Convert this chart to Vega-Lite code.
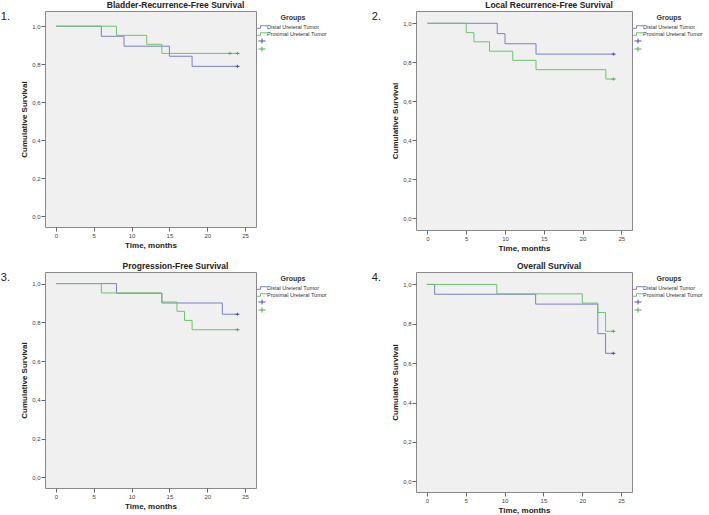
{
  "$schema": "https://vega.github.io/schema/vega-lite/v6.json",
  "background": "white",
  "padding": {"left": 0, "top": 0, "right": 0, "bottom": 0},
  "datasets": {
    "curves": [
      {"p": 1, "g": "Distal Ureteral Tumor", "t": 0, "s": 1},
      {"p": 1, "g": "Distal Ureteral Tumor", "t": 6, "s": 0.947},
      {"p": 1, "g": "Distal Ureteral Tumor", "t": 9, "s": 0.895},
      {"p": 1, "g": "Distal Ureteral Tumor", "t": 15, "s": 0.842},
      {"p": 1, "g": "Distal Ureteral Tumor", "t": 18, "s": 0.789},
      {"p": 1, "g": "Distal Ureteral Tumor", "t": 24, "s": 0.789},
      {"p": 1, "g": "Proximal Ureteral Tumor", "t": 0, "s": 1},
      {"p": 1, "g": "Proximal Ureteral Tumor", "t": 8, "s": 0.952},
      {"p": 1, "g": "Proximal Ureteral Tumor", "t": 12, "s": 0.905},
      {"p": 1, "g": "Proximal Ureteral Tumor", "t": 14, "s": 0.857},
      {"p": 1, "g": "Proximal Ureteral Tumor", "t": 24, "s": 0.857},
      {"p": 2, "g": "Distal Ureteral Tumor", "t": 0, "s": 1},
      {"p": 2, "g": "Distal Ureteral Tumor", "t": 9, "s": 0.947},
      {"p": 2, "g": "Distal Ureteral Tumor", "t": 10, "s": 0.895},
      {"p": 2, "g": "Distal Ureteral Tumor", "t": 14, "s": 0.842},
      {"p": 2, "g": "Distal Ureteral Tumor", "t": 24, "s": 0.842},
      {"p": 2, "g": "Proximal Ureteral Tumor", "t": 0, "s": 1},
      {"p": 2, "g": "Proximal Ureteral Tumor", "t": 5, "s": 0.952},
      {"p": 2, "g": "Proximal Ureteral Tumor", "t": 6, "s": 0.905},
      {"p": 2, "g": "Proximal Ureteral Tumor", "t": 8, "s": 0.857},
      {"p": 2, "g": "Proximal Ureteral Tumor", "t": 11, "s": 0.81},
      {"p": 2, "g": "Proximal Ureteral Tumor", "t": 14, "s": 0.762},
      {"p": 2, "g": "Proximal Ureteral Tumor", "t": 23, "s": 0.714},
      {"p": 2, "g": "Proximal Ureteral Tumor", "t": 24, "s": 0.714},
      {"p": 3, "g": "Distal Ureteral Tumor", "t": 0, "s": 1},
      {"p": 3, "g": "Distal Ureteral Tumor", "t": 8, "s": 0.95},
      {"p": 3, "g": "Distal Ureteral Tumor", "t": 14, "s": 0.9},
      {"p": 3, "g": "Distal Ureteral Tumor", "t": 22, "s": 0.842},
      {"p": 3, "g": "Distal Ureteral Tumor", "t": 24, "s": 0.842},
      {"p": 3, "g": "Proximal Ureteral Tumor", "t": 0, "s": 1},
      {"p": 3, "g": "Proximal Ureteral Tumor", "t": 6, "s": 0.952},
      {"p": 3, "g": "Proximal Ureteral Tumor", "t": 14, "s": 0.905},
      {"p": 3, "g": "Proximal Ureteral Tumor", "t": 16, "s": 0.857},
      {"p": 3, "g": "Proximal Ureteral Tumor", "t": 17, "s": 0.81},
      {"p": 3, "g": "Proximal Ureteral Tumor", "t": 18, "s": 0.762},
      {"p": 3, "g": "Proximal Ureteral Tumor", "t": 24, "s": 0.762},
      {"p": 4, "g": "Distal Ureteral Tumor", "t": 0, "s": 1},
      {"p": 4, "g": "Distal Ureteral Tumor", "t": 1, "s": 0.95},
      {"p": 4, "g": "Distal Ureteral Tumor", "t": 14, "s": 0.9},
      {"p": 4, "g": "Distal Ureteral Tumor", "t": 22, "s": 0.75},
      {"p": 4, "g": "Distal Ureteral Tumor", "t": 23, "s": 0.65},
      {"p": 4, "g": "Distal Ureteral Tumor", "t": 24, "s": 0.65},
      {"p": 4, "g": "Proximal Ureteral Tumor", "t": 0, "s": 1},
      {"p": 4, "g": "Proximal Ureteral Tumor", "t": 9, "s": 0.952},
      {"p": 4, "g": "Proximal Ureteral Tumor", "t": 20, "s": 0.905},
      {"p": 4, "g": "Proximal Ureteral Tumor", "t": 22, "s": 0.857},
      {"p": 4, "g": "Proximal Ureteral Tumor", "t": 23, "s": 0.762},
      {"p": 4, "g": "Proximal Ureteral Tumor", "t": 24, "s": 0.762}
    ],
    "censored": [
      {"p": 1, "g": "Distal censored", "t": 24, "s": 0.789},
      {"p": 1, "g": "Proximal censored", "t": 23, "s": 0.857},
      {"p": 1, "g": "Proximal censored", "t": 24, "s": 0.857},
      {"p": 2, "g": "Distal censored", "t": 24, "s": 0.842},
      {"p": 2, "g": "Proximal censored", "t": 24, "s": 0.714},
      {"p": 3, "g": "Distal censored", "t": 24, "s": 0.842},
      {"p": 3, "g": "Proximal censored", "t": 24, "s": 0.762},
      {"p": 4, "g": "Distal censored", "t": 24, "s": 0.65},
      {"p": 4, "g": "Proximal censored", "t": 24, "s": 0.762}
    ]
  },
  "resolve": {"scale": {"x": "independent", "y": "independent", "color": "independent", "shape": "independent"}, "legend": {"color": "independent", "shape": "independent"}},
  "spacing": 8,
  "vconcat": [
    {
      "resolve": {"scale": {"x": "independent", "y": "independent", "color": "independent", "shape": "independent"}, "legend": {"color": "independent", "shape": "independent"}},
      "spacing": 40,
      "hconcat": [
        {
          "resolve": {"scale": {"x": "independent", "y": "independent", "color": "independent", "shape": "independent"}, "legend": {"color": "independent", "shape": "independent"}},
          "title": {"text": "1.", "orient": "left", "angle": 0, "anchor": "end", "fontSize": 11, "fontWeight": "normal", "offset": 1, "dy": 11},
          "hconcat": [
            {
              "width": 211, "height": 216,
              "title": {"text": "Bladder-Recurrence-Free Survival", "dx": 25, "offset": 2},
              "layer": [
                {
                  "data": {"name": "curves"},
                  "transform": [{"filter": "datum.p == 1"}],
                  "mark": {"type": "line", "interpolate": "step-after", "strokeWidth": 1},
                  "encoding": {
                    "x": {"field": "t", "type": "quantitative", "title": "Time, months", "scale": {"domain": [-1.45, 26.45], "nice": false, "zero": false}, "axis": {"values": [0, 5, 10, 15, 20, 25]}},
                    "y": {"field": "s", "type": "quantitative", "title": "Cumulative Survival", "scale": {"domain": [-0.056, 1.08], "nice": false, "zero": false}, "axis": {"values": [0, 0.2, 0.4, 0.6, 0.8, 1], "labelExpr": "replace(format(datum.value, '.1f'), '.', ',')"}},
                    "color": {"field": "g", "type": "nominal", "title": "Groups", "scale": {"domain": ["Distal Ureteral Tumor", "Proximal Ureteral Tumor", "Distal censored", "Proximal censored"], "range": ["#7b7fc9", "#6cc46c", "#4d51ad", "#4fae4f"]}, "legend": {"labelExpr": "indexof(datum.label, 'censored') >= 0 ? '' : datum.label"}}
                  }
                },
                {
                  "data": {"name": "censored"},
                  "transform": [{"filter": "datum.p == 1"}],
                  "mark": {"type": "point", "filled": false, "size": 9, "strokeWidth": 1, "opacity": 1},
                  "encoding": {
                    "x": {"field": "t", "type": "quantitative"},
                    "y": {"field": "s", "type": "quantitative"},
                    "color": {"field": "g", "type": "nominal", "title": "Groups", "legend": {"labelExpr": "indexof(datum.label, 'censored') >= 0 ? '' : datum.label"}},
                    "shape": {"field": "g", "type": "nominal", "title": "Groups", "scale": {"domain": ["Distal Ureteral Tumor", "Proximal Ureteral Tumor", "Distal censored", "Proximal censored"], "range": ["M-2,0.5H-0.6V-0.5H2", "M-2,0.5H-0.6V-0.5H2", "M-1.4,0H1.4M0,-1V1", "M-1.4,0H1.4M0,-1V1"]}, "legend": {"labelExpr": "indexof(datum.label, 'censored') >= 0 ? '' : datum.label"}}
                  }
                }
              ]
            }
          ]
        },
        {
          "resolve": {"scale": {"x": "independent", "y": "independent", "color": "independent", "shape": "independent"}, "legend": {"color": "independent", "shape": "independent"}},
          "title": {"text": "2.", "orient": "left", "angle": 0, "anchor": "end", "fontSize": 11, "fontWeight": "normal", "offset": 1, "dy": 11},
          "hconcat": [
            {
              "width": 216, "height": 219,
              "title": {"text": "Local Recurrence-Free Survival", "dx": 25, "offset": 2},
              "layer": [
                {
                  "data": {"name": "curves"},
                  "transform": [{"filter": "datum.p == 2"}],
                  "mark": {"type": "line", "interpolate": "step-after", "strokeWidth": 1},
                  "encoding": {
                    "x": {"field": "t", "type": "quantitative", "title": "Time, months", "scale": {"domain": [-1.47, 26.37], "nice": false, "zero": false}, "axis": {"values": [0, 5, 10, 15, 20, 25]}},
                    "y": {"field": "s", "type": "quantitative", "title": "Cumulative Survival", "scale": {"domain": [-0.06, 1.063], "nice": false, "zero": false}, "axis": {"values": [0, 0.2, 0.4, 0.6, 0.8, 1], "labelExpr": "replace(format(datum.value, '.1f'), '.', ',')"}},
                    "color": {"field": "g", "type": "nominal", "title": "Groups", "scale": {"domain": ["Distal Ureteral Tumor", "Proximal Ureteral Tumor", "Distal censored", "Proximal censored"], "range": ["#7b7fc9", "#6cc46c", "#4d51ad", "#4fae4f"]}, "legend": {"labelExpr": "indexof(datum.label, 'censored') >= 0 ? '' : datum.label"}}
                  }
                },
                {
                  "data": {"name": "censored"},
                  "transform": [{"filter": "datum.p == 2"}],
                  "mark": {"type": "point", "filled": false, "size": 9, "strokeWidth": 1, "opacity": 1},
                  "encoding": {
                    "x": {"field": "t", "type": "quantitative"},
                    "y": {"field": "s", "type": "quantitative"},
                    "color": {"field": "g", "type": "nominal", "title": "Groups", "legend": {"labelExpr": "indexof(datum.label, 'censored') >= 0 ? '' : datum.label"}},
                    "shape": {"field": "g", "type": "nominal", "title": "Groups", "scale": {"domain": ["Distal Ureteral Tumor", "Proximal Ureteral Tumor", "Distal censored", "Proximal censored"], "range": ["M-2,0.5H-0.6V-0.5H2", "M-2,0.5H-0.6V-0.5H2", "M-1.4,0H1.4M0,-1V1", "M-1.4,0H1.4M0,-1V1"]}, "legend": {"labelExpr": "indexof(datum.label, 'censored') >= 0 ? '' : datum.label"}}
                  }
                }
              ]
            }
          ]
        }
      ]
    },
    {
      "resolve": {"scale": {"x": "independent", "y": "independent", "color": "independent", "shape": "independent"}, "legend": {"color": "independent", "shape": "independent"}},
      "spacing": 40,
      "hconcat": [
        {
          "resolve": {"scale": {"x": "independent", "y": "independent", "color": "independent", "shape": "independent"}, "legend": {"color": "independent", "shape": "independent"}},
          "title": {"text": "3.", "orient": "left", "angle": 0, "anchor": "end", "fontSize": 11, "fontWeight": "normal", "offset": 1, "dy": 11},
          "hconcat": [
            {
              "width": 211, "height": 216,
              "title": {"text": "Progression-Free Survival", "dx": 25, "offset": 2},
              "layer": [
                {
                  "data": {"name": "curves"},
                  "transform": [{"filter": "datum.p == 3"}],
                  "mark": {"type": "line", "interpolate": "step-after", "strokeWidth": 1},
                  "encoding": {
                    "x": {"field": "t", "type": "quantitative", "title": "Time, months", "scale": {"domain": [-1.45, 26.45], "nice": false, "zero": false}, "axis": {"values": [0, 5, 10, 15, 20, 25]}},
                    "y": {"field": "s", "type": "quantitative", "title": "Cumulative Survival", "scale": {"domain": [-0.055, 1.06], "nice": false, "zero": false}, "axis": {"values": [0, 0.2, 0.4, 0.6, 0.8, 1], "labelExpr": "replace(format(datum.value, '.1f'), '.', ',')"}},
                    "color": {"field": "g", "type": "nominal", "title": "Groups", "scale": {"domain": ["Distal Ureteral Tumor", "Proximal Ureteral Tumor", "Distal censored", "Proximal censored"], "range": ["#7b7fc9", "#6cc46c", "#4d51ad", "#4fae4f"]}, "legend": {"labelExpr": "indexof(datum.label, 'censored') >= 0 ? '' : datum.label"}}
                  }
                },
                {
                  "data": {"name": "censored"},
                  "transform": [{"filter": "datum.p == 3"}],
                  "mark": {"type": "point", "filled": false, "size": 9, "strokeWidth": 1, "opacity": 1},
                  "encoding": {
                    "x": {"field": "t", "type": "quantitative"},
                    "y": {"field": "s", "type": "quantitative"},
                    "color": {"field": "g", "type": "nominal", "title": "Groups", "legend": {"labelExpr": "indexof(datum.label, 'censored') >= 0 ? '' : datum.label"}},
                    "shape": {"field": "g", "type": "nominal", "title": "Groups", "scale": {"domain": ["Distal Ureteral Tumor", "Proximal Ureteral Tumor", "Distal censored", "Proximal censored"], "range": ["M-2,0.5H-0.6V-0.5H2", "M-2,0.5H-0.6V-0.5H2", "M-1.4,0H1.4M0,-1V1", "M-1.4,0H1.4M0,-1V1"]}, "legend": {"labelExpr": "indexof(datum.label, 'censored') >= 0 ? '' : datum.label"}}
                  }
                }
              ]
            }
          ]
        },
        {
          "resolve": {"scale": {"x": "independent", "y": "independent", "color": "independent", "shape": "independent"}, "legend": {"color": "independent", "shape": "independent"}},
          "title": {"text": "4.", "orient": "left", "angle": 0, "anchor": "end", "fontSize": 11, "fontWeight": "normal", "offset": 1, "dy": 11},
          "hconcat": [
            {
              "width": 216, "height": 220,
              "title": {"text": "Overall Survival", "dx": 25, "offset": 2},
              "layer": [
                {
                  "data": {"name": "curves"},
                  "transform": [{"filter": "datum.p == 4"}],
                  "mark": {"type": "line", "interpolate": "step-after", "strokeWidth": 1},
                  "encoding": {
                    "x": {"field": "t", "type": "quantitative", "title": "Time, months", "scale": {"domain": [-1.4, 26.4], "nice": false, "zero": false}, "axis": {"values": [0, 5, 10, 15, 20, 25]}},
                    "y": {"field": "s", "type": "quantitative", "title": "Cumulative Survival", "scale": {"domain": [-0.054, 1.063], "nice": false, "zero": false}, "axis": {"values": [0, 0.2, 0.4, 0.6, 0.8, 1], "labelExpr": "replace(format(datum.value, '.1f'), '.', ',')"}},
                    "color": {"field": "g", "type": "nominal", "title": "Groups", "scale": {"domain": ["Distal Ureteral Tumor", "Proximal Ureteral Tumor", "Distal censored", "Proximal censored"], "range": ["#7b7fc9", "#6cc46c", "#4d51ad", "#4fae4f"]}, "legend": {"labelExpr": "indexof(datum.label, 'censored') >= 0 ? '' : datum.label"}}
                  }
                },
                {
                  "data": {"name": "censored"},
                  "transform": [{"filter": "datum.p == 4"}],
                  "mark": {"type": "point", "filled": false, "size": 9, "strokeWidth": 1, "opacity": 1},
                  "encoding": {
                    "x": {"field": "t", "type": "quantitative"},
                    "y": {"field": "s", "type": "quantitative"},
                    "color": {"field": "g", "type": "nominal", "title": "Groups", "legend": {"labelExpr": "indexof(datum.label, 'censored') >= 0 ? '' : datum.label"}},
                    "shape": {"field": "g", "type": "nominal", "title": "Groups", "scale": {"domain": ["Distal Ureteral Tumor", "Proximal Ureteral Tumor", "Distal censored", "Proximal censored"], "range": ["M-2,0.5H-0.6V-0.5H2", "M-2,0.5H-0.6V-0.5H2", "M-1.4,0H1.4M0,-1V1", "M-1.4,0H1.4M0,-1V1"]}, "legend": {"labelExpr": "indexof(datum.label, 'censored') >= 0 ? '' : datum.label"}}
                  }
                }
              ]
            }
          ]
        }
      ]
    }
  ],
  "config": {
    "font": "Liberation Sans",
    "view": {"fill": "#f0f0f0", "stroke": "#8a8a8a", "strokeWidth": 1},
    "axis": {"grid": false, "domain": false, "tickColor": "#666666", "tickSize": 4, "labelFontSize": 6, "labelColor": "#444444", "labelPadding": 1, "titleFontSize": 8, "titleFontWeight": "bold", "titleColor": "#222222", "titlePadding": 3},
    "title": {"fontSize": 8.5, "fontWeight": "bold", "color": "#222222", "offset": 2},
    "legend": {"titleFontSize": 7, "titleFontWeight": "bold", "titleColor": "#333333", "titleAnchor": "middle", "labelFontSize": 5.5, "labelColor": "#333333", "symbolSize": 25, "symbolStrokeWidth": 1, "rowPadding": -3, "offset": 0, "labelOffset": 2, "padding": 3, "titlePadding": 3}
  }
}
